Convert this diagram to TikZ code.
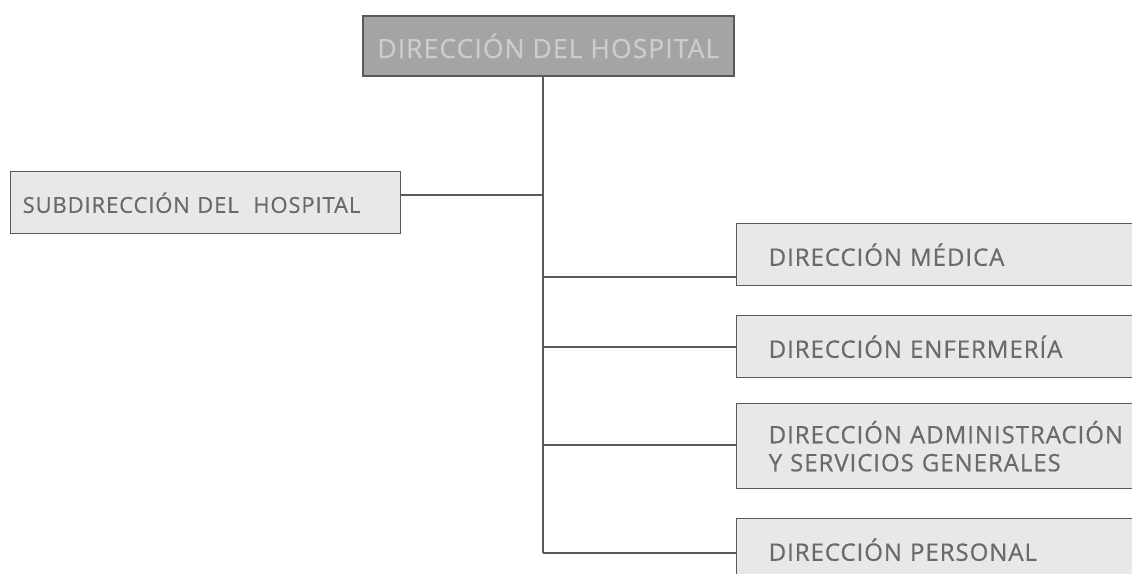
\documentclass[tikz,border=0pt]{standalone}
\usepackage{fontspec}
\setmainfont{Open Sans}[LetterSpace=4,FakeBold=0.6]
\usetikzlibrary{positioning}
\definecolor{boxline}{HTML}{5A5A5A}
\definecolor{topfill}{HTML}{A4A4A4}
\definecolor{topfont}{HTML}{CCCCCC}
\definecolor{unitfill}{HTML}{E8E8E8}
\definecolor{unitfont}{HTML}{6A6A6A}
\tikzstyle{topbox}=[rectangle,draw=boxline,line width=1.6pt,fill=topfill,text=topfont,minimum width=371pt,minimum height=60pt,inner sep=0pt,font=\fontsize{26.5}{30}\selectfont]
\tikzstyle{unit}=[rectangle,draw=boxline,line width=1.4pt,fill=unitfill,text=unitfont,align=left,anchor=north west,inner xsep=32pt,inner ysep=0pt,minimum height=62pt,text width=360pt,font=\fontsize{24}{28}\selectfont]
\tikzstyle{conn}=[draw=boxline,line width=1.3pt]
\begin{document}
\begin{tikzpicture}[x=1pt,y=-1pt]
\clip (0,0) rectangle (1132,573);
\fill[white] (0,0) rectangle (1132,573);
\node[topbox,anchor=north west] (dir) at (362,15) {DIRECCIÓN DEL HOSPITAL};
\node[unit,inner xsep=12pt,text width=366pt,font=\fontsize{22}{26}\selectfont] (sub) at (10,171) {SUBDIRECCIÓN DEL\ \ HOSPITAL};
\node[unit] (med) at (736,223) {DIRECCIÓN MÉDICA};
\node[unit] (enf) at (736,315) {DIRECCIÓN ENFERMERÍA};
\node[unit,minimum height=85pt] (adm) at (736,403) {DIRECCIÓN ADMINISTRACIÓN\\Y SERVICIOS GENERALES};
\node[unit] (per) at (736,518) {DIRECCIÓN PERSONAL};
\coordinate (j0) at (543,195);
\coordinate (j1) at (543,277);
\coordinate (j2) at (543,347);
\coordinate (j3) at (543,445);
\coordinate (j4) at (543,553);
\draw[conn] (dir.south -| j4) -- (j4);
\draw[conn] (sub.east |- j0) -- (j0);
\draw[conn] (j1) -- (j1 -| med.west);
\draw[conn] (j2) -- (j2 -| enf.west);
\draw[conn] (j3) -- (j3 -| adm.west);
\draw[conn] (j4) -- (j4 -| per.west);
\end{tikzpicture}
\end{document}
